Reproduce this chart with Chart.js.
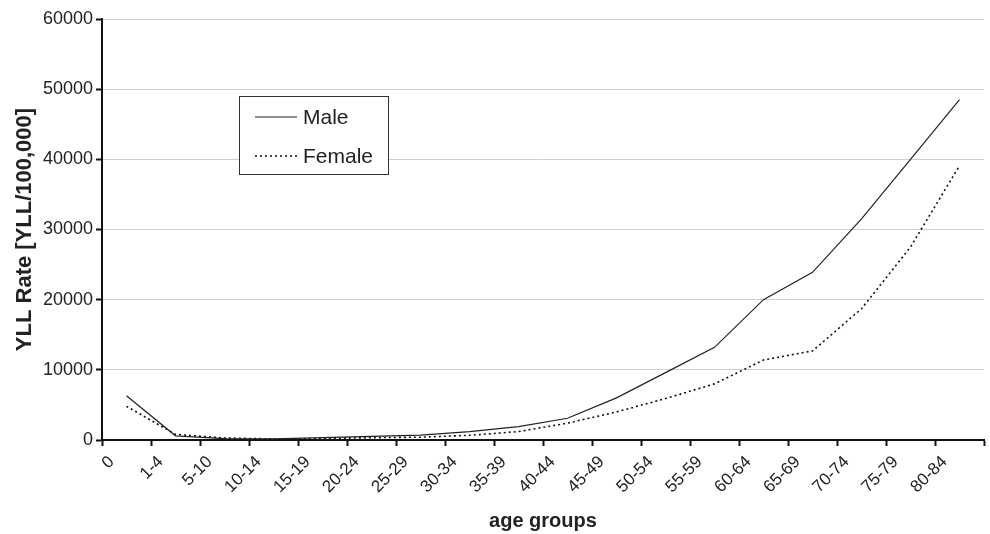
<!DOCTYPE html>
<html>
<head>
<meta charset="utf-8">
<script src="https://cdn.jsdelivr.net/npm/chart.js@4/dist/chart.umd.min.js"></script>
<style>
  html, body { margin: 0; padding: 0; background: #fff; }
  #wrap { width: 990px; height: 534px; }
</style>
</head>
<body>
<div id="wrap"><canvas id="yll-chart"></canvas></div>
<script>
const ageGroups = ['0', '1-4', '5-10', '10-14', '15-19', '20-24', '25-29', '30-34', '35-39',
    '40-44', '45-49', '50-54', '55-59', '60-64', '65-69', '70-74', '75-79', '80-84'];
const male = [6300, 600, 200, 150, 330, 520, 700, 1200, 1900,
    3100, 6000, 9600, 13200, 20000, 23900, 31500, 40000, 48500];
const female = [4800, 800, 290, 150, 200, 330, 400, 670, 1200,
    2400, 4000, 5900, 8000, 11400, 12700, 18700, 27500, 39100];
const yTicks = [0, 10000, 20000, 30000, 40000, 50000, 60000];

const FONT = "'Liberation Sans', Arial, sans-serif";

// legend box drawn inside the plot, like the original
const boxLegend = {
    id: 'boxLegend',
    afterDraw(chart) {
        const ctx = chart.ctx;
        const x = 239, y = 96, w = 149, h = 78;
        ctx.save();
        ctx.fillStyle = '#fff';
        ctx.fillRect(x, y, w, h);
        ctx.strokeStyle = '#333';
        ctx.lineWidth = 1;
        ctx.strokeRect(x + 0.5, y + 0.5, w, h);
        ctx.font = '21px ' + FONT;
        ctx.textBaseline = 'middle';
        chart.data.datasets.forEach((ds, i) => {
            const ly = y + 21 + i * 39;
            ctx.beginPath();
            ctx.strokeStyle = ds.borderColor;
            ctx.lineWidth = ds.borderWidth;
            ctx.setLineDash(ds.borderDash || []);
            ctx.moveTo(x + 16, ly);
            ctx.lineTo(x + 58, ly);
            ctx.stroke();
            ctx.setLineDash([]);
            ctx.fillStyle = '#222';
            ctx.fillText(ds.label, x + 64, ly + 1);
        });
        ctx.restore();
    }
};

new Chart(document.getElementById('yll-chart'), {
    type: 'line',
    data: {
        labels: ageGroups,
        datasets: [{
            label: 'Male',
            data: male,
            borderColor: '#222',
            borderWidth: 1.2,
            pointRadius: 0,
            tension: 0,
        }, {
            label: 'Female',
            data: female,
            borderColor: '#111',
            borderWidth: 1.6,
            borderDash: [2, 3],
            pointRadius: 0,
            tension: 0,
        }]
    },
    options: {
        responsive: true,
        maintainAspectRatio: false,
        animation: false,
        layout: { padding: { top: 19, right: 6, left: 0, bottom: 0 } },
        plugins: { legend: { display: false }, tooltip: { enabled: false } },
        scales: {
            x: {
                offset: true,
                afterFit: s => { s.height = 94; },
                grid: { offset: true, drawOnChartArea: false, tickColor: '#111', tickLength: 6, tickWidth: 2 },
                border: { color: '#111', width: 2 },
                ticks: {
                    minRotation: 45, maxRotation: 45, autoSkip: false,
                    labelOffset: -15, padding: 6,
                    color: '#222',
                    font: { family: FONT, size: 17 },
                },
                title: {
                    display: true, text: 'age groups', color: '#222',
                    font: { family: FONT, size: 20, weight: 'bold' },
                    padding: { top: 0, bottom: 1 },
                },
            },
            y: {
                min: 0, max: 60000,
                afterFit: s => { s.width = 102; },
                afterBuildTicks: s => { s.ticks = yTicks.map(v => ({ value: v })); },
                grid: { color: '#cfcfcf', tickColor: '#111', tickLength: 6, tickWidth: 2 },
                border: { color: '#111', width: 2 },
                ticks: {
                    color: '#222', padding: 3,
                    font: { family: FONT, size: 18 },
                    callback: v => String(v),
                },
                title: {
                    display: true, text: 'YLL Rate [YLL/100,000]', color: '#222',
                    font: { family: FONT, size: 22, weight: 'bold' },
                    padding: { top: 12, bottom: 0 },
                },
            }
        }
    },
    plugins: [boxLegend],
});
</script>
</body>
</html>
